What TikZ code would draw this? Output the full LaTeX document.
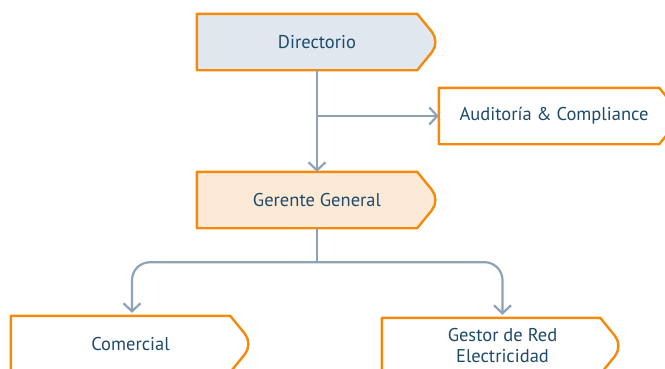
\documentclass[tikz,border=0pt]{standalone}
\usepackage{fontspec}
\setmainfont{PT Sans}
\usetikzlibrary{arrows.meta,backgrounds}

\definecolor{naranja}{HTML}{F48A0C}
\definecolor{azulclaro}{HTML}{E0E7EE}
\definecolor{crema}{HTML}{FDEAD6}
\definecolor{texto}{HTML}{1D4A6B}
\definecolor{linea}{HTML}{8DA2B4}

% contorno de caja con punta a la derecha
\newcommand{\contorno}[2]{%
	\draw [borde, fill=#2] (#1.north west) -- ([xshift=-23pt]#1.north east)
		[rounded corners=13pt] -- (#1.east) [sharp corners]
		-- ([xshift=-23pt]#1.south east) -- (#1.south west) -- cycle;}

\begin{document}
\begin{tikzpicture}[x=1pt, y=-1pt,
		bloque/.style={minimum width=243pt, minimum height=56pt, inner sep=0pt,
			text=texto, align=center, font=\fontsize{18.5}{21}\selectfont},
		borde/.style={draw=naranja, line width=2.4pt, line join=round},
		conector/.style={draw=linea, line width=2.2pt,
			-{Straight Barb[length=8pt, width=17pt]}}]
		\clip (0,0) rectangle (665,368);
		\useasboundingbox (0,0) rectangle (665,368);

		% cajas
		\node [bloque] (dir) at ( 318.5, 42 ) {Directorio\hspace*{3pt}};
		\node [bloque] (aud) at ( 560.5, 116 ) {Auditoría \& Compliance\hspace*{13pt}};
		\node [bloque] (ger) at ( 318.5, 200 ) {Gerente General\hspace*{3pt}};
		\node [bloque, minimum width=242pt] (com) at ( 132, 344 ) {Comercial\hspace*{3pt}};
		\node [bloque, minimum width=241pt] (ges) at ( 502.5, 346 ) {Gestor de Red\\Electricidad};

		% contornos detras del texto
		\begin{scope}[on background layer]
			\contorno{dir}{azulclaro}
			\contorno{aud}{white}
			\contorno{ger}{crema}
			\contorno{com}{white}
			\contorno{ges}{white}
		\end{scope}

		% conectores
		\coordinate (eje) at ( 317, 0 );
		\draw [conector] (dir.south -| eje) -- (ger.north -| eje);
		\draw [conector] (aud.west -| eje) -- (aud.west);
		\draw [conector, -] (ger.south -| eje) -- ++(0,34) coordinate (nudo);
		\draw [conector, rounded corners=18pt, shorten >=3pt] (nudo) -| (com.north);
		\draw [conector, rounded corners=18pt, shorten >=3pt] (nudo) -| (ges.north);
\end{tikzpicture}
\end{document}
